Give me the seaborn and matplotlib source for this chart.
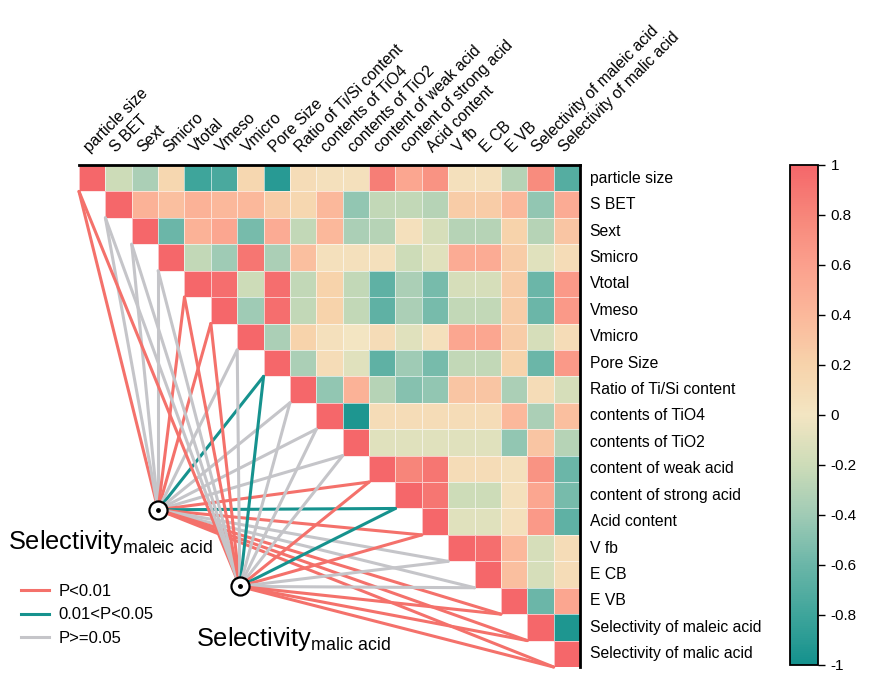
import numpy as np
import pandas as pd
import matplotlib
matplotlib.use("Agg")
import matplotlib.pyplot as plt
from matplotlib.colors import LinearSegmentedColormap
from matplotlib.lines import Line2D
import seaborn as sns

# ── data ──────────────────────────────────────────────────────────────────────
VARIABLES = [
    "particle size", "S BET", "Sext", "Smicro", "Vtotal", "Vmeso", "Vmicro",
    "Pore Size", "Ratio of Ti/Si content", "contents of TiO4", "contents of TiO2",
    "content of weak acid", "content of strong acid", "Acid content", "V fb",
    "E CB", "E VB", "Selectivity of maleic acid", "Selectivity of malic acid",
]

# upper triangle of the correlation matrix, row i holds columns i..18
CORR_UPPER = [
    [1, -0.2, -0.35, 0.15, -0.8, -0.75, 0.15, -0.9, 0.1, 0.05, 0.05, 0.85, 0.55, 0.7, 0.05, 0.05, -0.3, 0.75, -0.7],
    [1, 0.45, 0.35, 0.45, 0.4, 0.4, 0.25, 0.15, 0.4, -0.45, -0.25, -0.25, -0.3, 0.25, 0.25, 0.4, -0.45, 0.5],
    [1, -0.6, 0.45, 0.55, -0.55, 0.5, -0.25, 0.4, -0.35, -0.3, 0.05, -0.15, -0.3, -0.3, 0.2, -0.3, 0.3],
    [1, -0.25, -0.4, 0.9, -0.35, 0.35, 0.05, 0.05, 0.05, -0.2, -0.1, 0.5, 0.5, 0.25, -0.1, 0.1],
    [1, 0.95, -0.2, 0.95, -0.25, 0.2, -0.25, -0.65, -0.35, -0.55, -0.15, -0.15, 0.25, -0.6, 0.65],
    [1, -0.4, 0.95, -0.25, 0.2, -0.25, -0.65, -0.35, -0.55, -0.25, -0.25, 0.25, -0.6, 0.65],
    [1, -0.35, 0.2, 0.05, 0.0, 0.1, -0.1, 0.05, 0.55, 0.55, 0.25, -0.15, 0.1],
    [1, -0.35, 0.1, -0.1, -0.65, -0.4, -0.55, -0.25, -0.25, 0.2, -0.6, 0.65],
    [1, -0.45, 0.45, -0.3, -0.5, -0.45, 0.3, 0.3, -0.35, 0.1, -0.15],
    [1, -0.95, 0.1, 0.1, 0.1, 0.1, 0.1, 0.4, -0.35, 0.35],
    [1, -0.1, -0.1, -0.1, -0.1, -0.1, -0.45, 0.3, -0.3],
    [1, 0.8, 0.9, 0.1, 0.1, 0.05, 0.7, -0.6],
    [1, 0.9, -0.2, -0.2, 0.05, 0.55, -0.55],
    [1, -0.1, -0.1, 0.05, 0.65, -0.65],
    [1, 0.95, 0.4, -0.15, 0.1],
    [1, 0.35, -0.15, 0.1],
    [1, -0.6, 0.55],
    [1, -0.95],
    [1],
]

# significance class of each variable vs. the two selectivities
P_MALEIC = ["P<0.01", "P>=0.05", "P>=0.05", "P>=0.05", "P<0.01", "P<0.01", "P>=0.05",
            "0.01<P<0.05", "P>=0.05", "P>=0.05", "P>=0.05", "P<0.01", "0.01<P<0.05",
            "P<0.01", "P>=0.05", "P>=0.05", "P<0.01", "P<0.01", "P<0.01"]
P_MALIC = ["P<0.01", "P>=0.05", "P>=0.05", "P>=0.05", "P<0.01", "P<0.01", "P>=0.05",
           "0.01<P<0.05", "P>=0.05", "P>=0.05", "P>=0.05", "P<0.01", "0.01<P<0.05",
           "P<0.01", "P>=0.05", "P>=0.05", "P<0.01", "P<0.01", "P<0.01"]
P_CLASSES = ["P<0.01", "0.01<P<0.05", "P>=0.05"]

# ── style ─────────────────────────────────────────────────────────────────────
plt.rcParams["font.family"] = ["Liberation Sans", "DejaVu Sans"]
plt.rcParams["mathtext.fontset"] = "custom"
plt.rcParams["mathtext.rm"] = "Liberation Sans"

P_COLOURS = {"P<0.01": "#F4716B", "0.01<P<0.05": "#16928E", "P>=0.05": "#C5C5C9"}
NODE_MALEIC = (3.0, 13.05)   # heatmap data coords
NODE_MALIC = (6.1, 15.95)

cmap = LinearSegmentedColormap.from_list("tealred", [
    (0.0, "#14918D"), (0.1, "#3FA59B"), (0.2, "#6BB6A8"), (0.3, "#A0CBB5"),
    (0.4, "#CDDCB8"), (0.5, "#F3E5C2"), (0.6, "#F7D3AB"), (0.7, "#FBB89B"),
    (0.8, "#FBA08D"), (0.9, "#F7867A"), (1.0, "#F5676A"),
])

# ── matrix ────────────────────────────────────────────────────────────────────
n = len(VARIABLES)
corr = np.zeros((n, n))
for i, row in enumerate(CORR_UPPER):
    corr[i, i:] = row
    corr[i:, i] = row
df = pd.DataFrame(corr, index=VARIABLES, columns=VARIABLES)
mask = np.tril(np.ones_like(corr, dtype=bool), k=-1)

W, H = 873, 687
fig = plt.figure(figsize=(W / 100, H / 100), dpi=100)
ax = fig.add_axes([79 / W, 20 / H, 501 / W, 502 / H])
cax = fig.add_axes([790 / W, 22 / H, 28 / W, 500 / H])

sns.heatmap(df, mask=mask, cmap=cmap, vmin=-1, vmax=1,
            linewidths=0.6, linecolor=(1, 1, 1, 0.6),
            xticklabels=True, yticklabels=True, ax=ax, cbar_ax=cax)

ax.xaxis.tick_top()
ax.set_xticklabels(VARIABLES, rotation=45, ha="left", va="bottom",
                   rotation_mode="anchor", fontsize=11.3)
ax.yaxis.tick_right()
ax.set_yticklabels(VARIABLES, rotation=0, ha="left", va="center", fontsize=11.3)
ax.tick_params(axis="both", length=0)
ax.tick_params(axis="x", pad=7)
ax.tick_params(axis="y", pad=7)
for side in ("top", "right"):
    ax.spines[side].set_visible(True)
    ax.spines[side].set_linewidth(2)
    ax.spines[side].set_color("black")
for side in ("left", "bottom"):
    ax.spines[side].set_visible(False)

# ── links from the two selectivities to each variable ─────────────────────────
for (nx, ny), pvals in ((NODE_MALEIC, P_MALEIC), (NODE_MALIC, P_MALIC)):
    for i, p in enumerate(pvals):
        ax.plot([nx, i], [ny, i + 1], color=P_COLOURS[p], lw=2.2,
                solid_capstyle="round", zorder=3, clip_on=False)
for nx, ny in (NODE_MALEIC, NODE_MALIC):
    ax.plot(nx, ny, marker="o", ms=13, mfc="white", mec="black", mew=1.6, zorder=5)
    ax.plot(nx, ny, marker="o", ms=2.5, color="black", zorder=6)

fig.text(8 / W, 1 - 549 / H, r"Selectivity$_{\mathrm{maleic\ acid}}$",
         fontsize=18.3, ha="left", va="baseline")
fig.text(196 / W, 1 - 646 / H, r"Selectivity$_{\mathrm{malic\ acid}}$",
         fontsize=18.3, ha="left", va="baseline")

handles = [Line2D([0], [0], color=P_COLOURS[p], lw=2.2) for p in P_CLASSES]
fig.legend(handles, P_CLASSES, loc="upper left", bbox_to_anchor=(6 / W, 1 - 569 / H),
           frameon=False, fontsize=12, handlelength=1.7, handletextpad=0.55,
           labelspacing=0.5)

# ── colourbar ─────────────────────────────────────────────────────────────────
cbar = ax.collections[0].colorbar
ticks = np.round(np.arange(-1, 1.01, 0.2), 1)
cbar.set_ticks(ticks)
cbar.set_ticklabels(["%g" % t if t != 0 else "0" for t in ticks])
cbar.outline.set_linewidth(1.3)
cbar.outline.set_edgecolor("black")
cax.tick_params(axis="y", right=True, length=5, width=1, direction="out",
                labelsize=11, pad=4)

fig.savefig("out.png", dpi=100)
